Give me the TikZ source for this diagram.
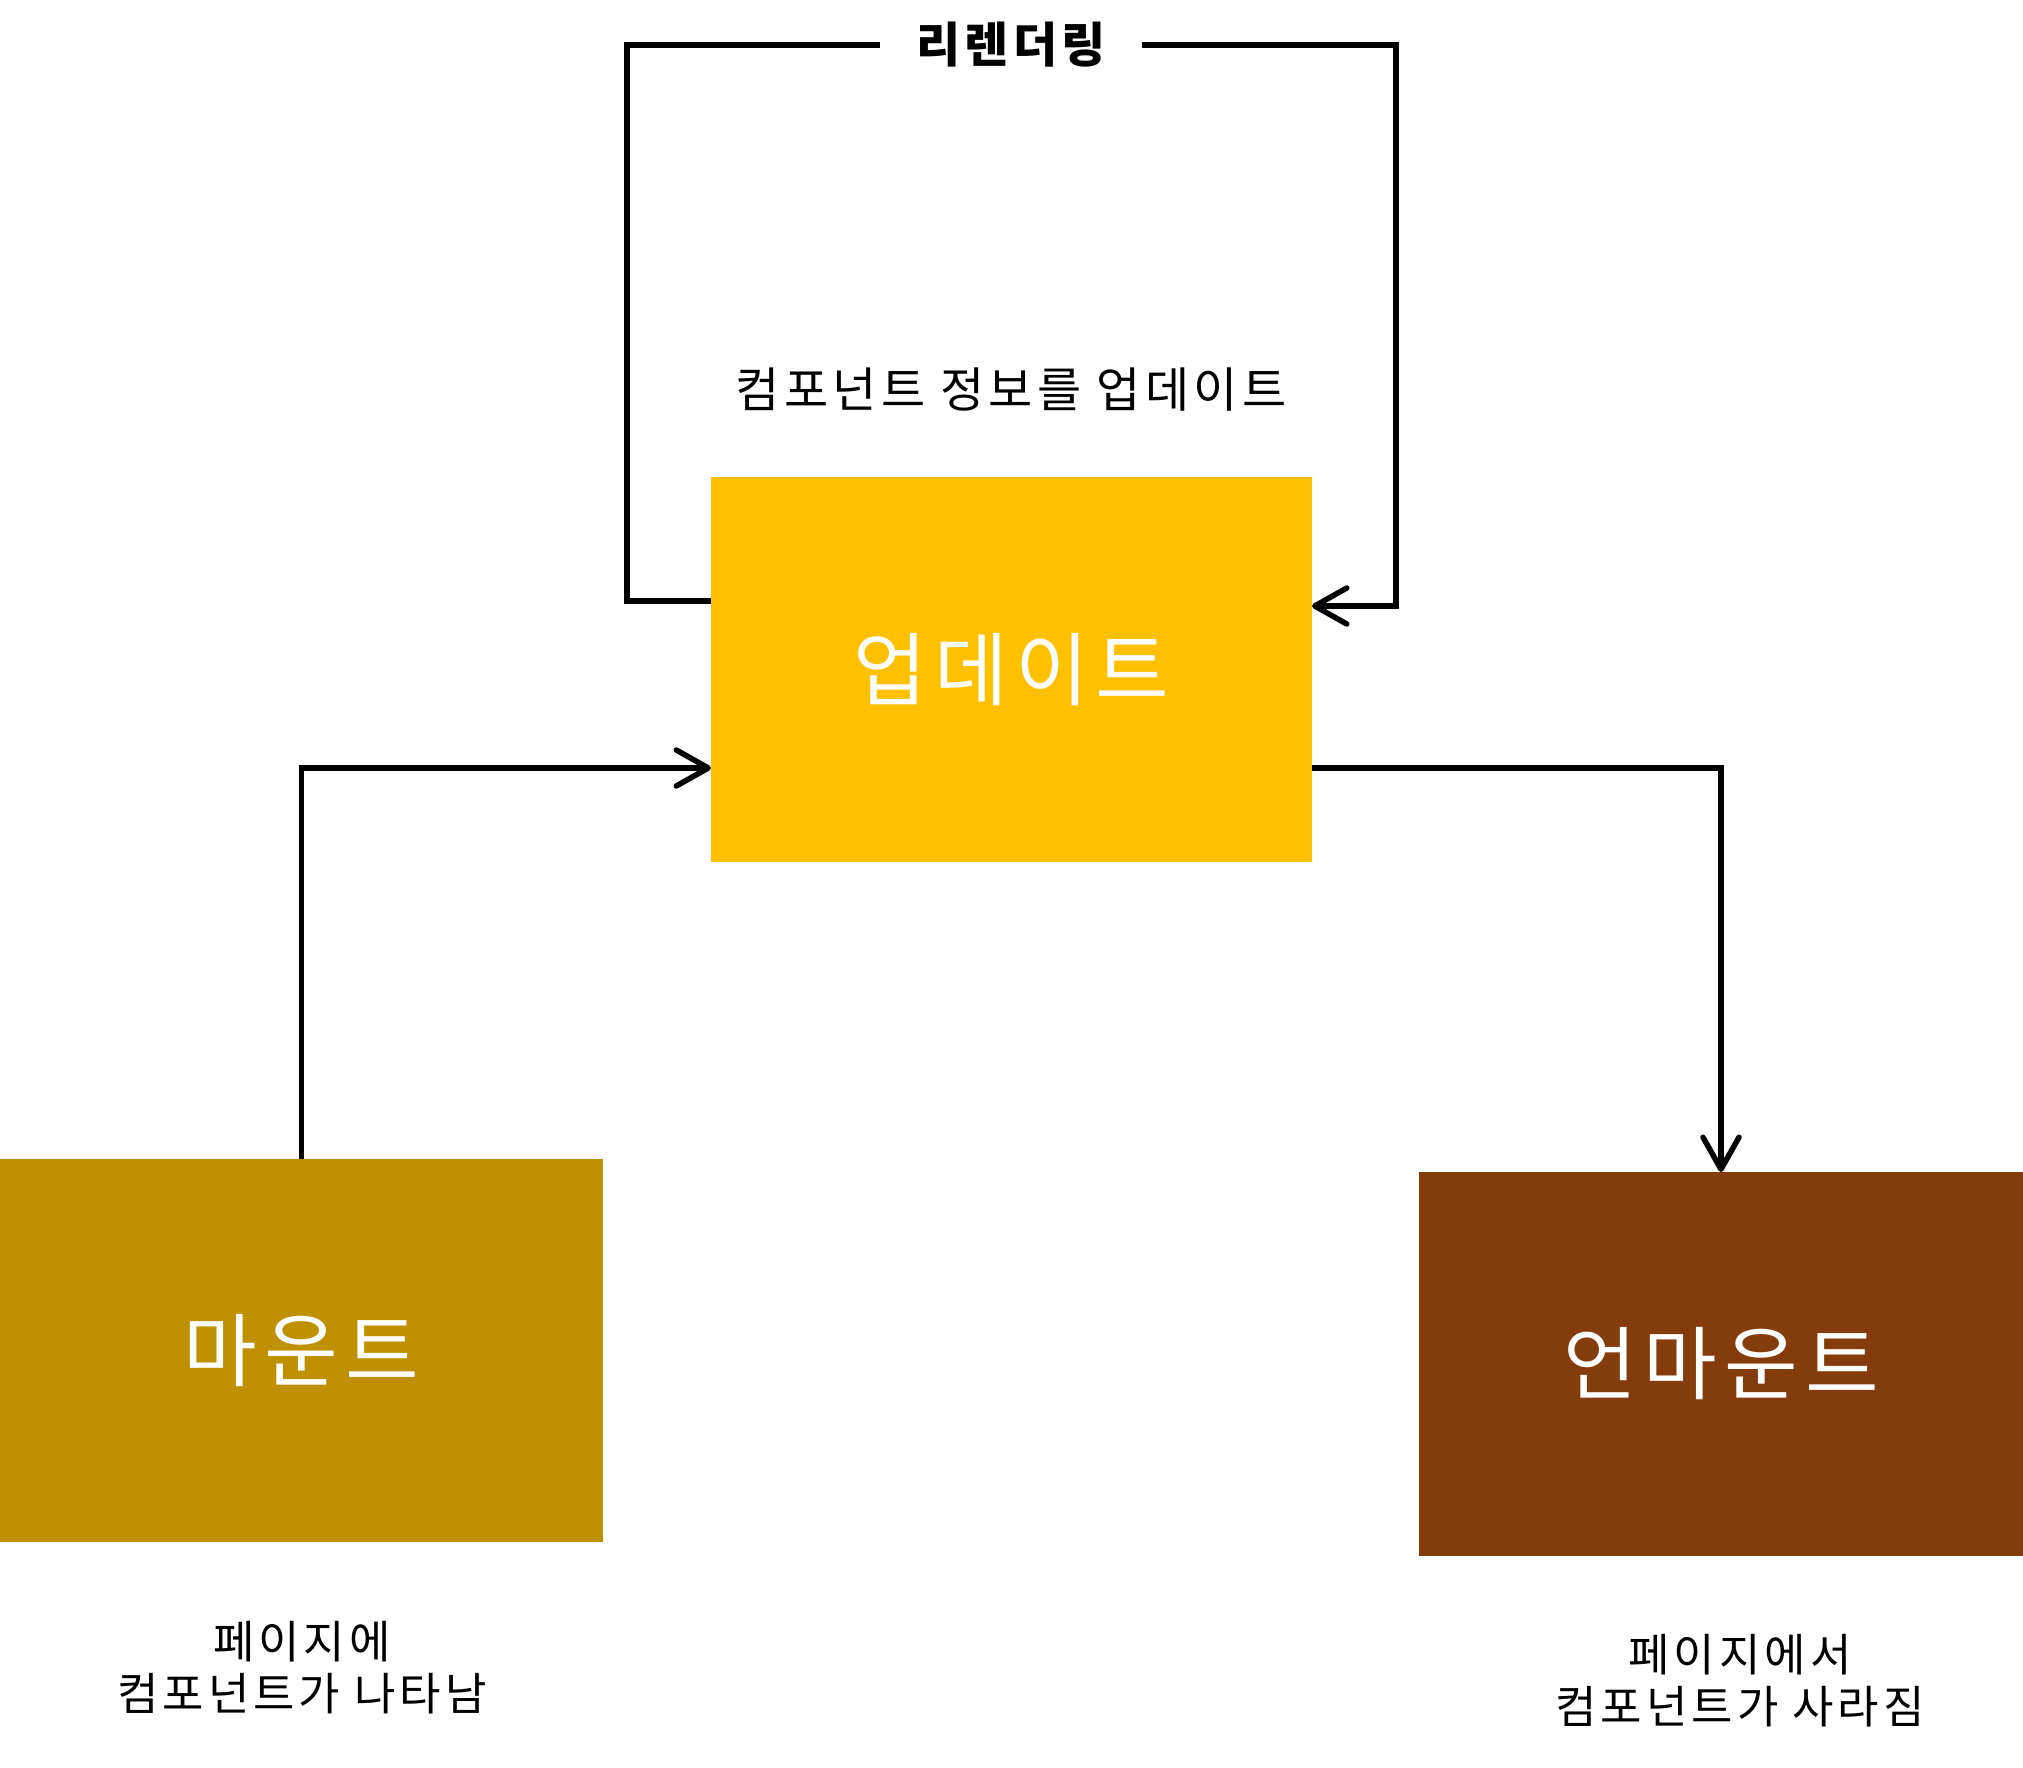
\documentclass[tikz,border=0pt]{standalone}
\usepackage{fontspec}
\setmainfont[LetterSpace=9]{Noto Sans CJK KR}
\usetikzlibrary{arrows.meta}
\definecolor{updc}{RGB}{255,192,0}
\definecolor{mountc}{RGB}{191,144,0}
\definecolor{unmc}{RGB}{132,60,12}
\tikzset{
  box/.style={rectangle, outer sep=0pt, inner sep=0pt, text=white, font=\fontsize{80}{96}\selectfont},
  conn/.style={draw=black, line width=5.5pt, -{Straight Barb[length=32pt, width=36pt, line width=5.5pt, round]}},
  lbl/.style={align=center, font=\fontsize{45}{52}\selectfont},
}
\begin{document}
\begin{tikzpicture}[x=1pt, y=-1pt]
\useasboundingbox[fill=white] (0,0) rectangle (2023,1767);

\node[box, fill=updc, minimum width=601pt, minimum height=385pt] (upd) at (1011.5,669.5) {업데이트};
\node[box, fill=mountc, minimum width=603pt, minimum height=383pt] (mount) at (301.5,1350.5) {마운트};
\node[box, fill=unmc, minimum width=604pt, minimum height=384pt] (unm) at (1721,1364) {언마운트};

% re-render loop
\coordinate (lpA) at (627,45);
\coordinate (lpB) at (1396,45);
\draw[conn] ([yshift=-124pt]upd.north west) -| (lpA) -- (lpB) |- ([yshift=-129pt]upd.north east);
\node[fill=white, inner xsep=36pt, inner ysep=2pt, font=\bfseries\fontsize{48}{56}\selectfont] (rr) at (1011,45) {리렌더링};

\node[font=\fontsize{48}{56}\selectfont] (info) at (1011,390) {컴포넌트 정보를 업데이트};

% mount -> update
\draw[conn] (mount.north) |- ([yshift=-98.5pt]upd.west);
% update -> unmount
\draw[conn] ([yshift=-98.5pt]upd.east) -| (unm.north);

\node[lbl] (mtxt) at (302,1668) {페이지에\\컴포넌트가 나타남};
\node[lbl] (utxt) at (1740,1681) {페이지에서\\컴포넌트가 사라짐};
\end{tikzpicture}
\end{document}
